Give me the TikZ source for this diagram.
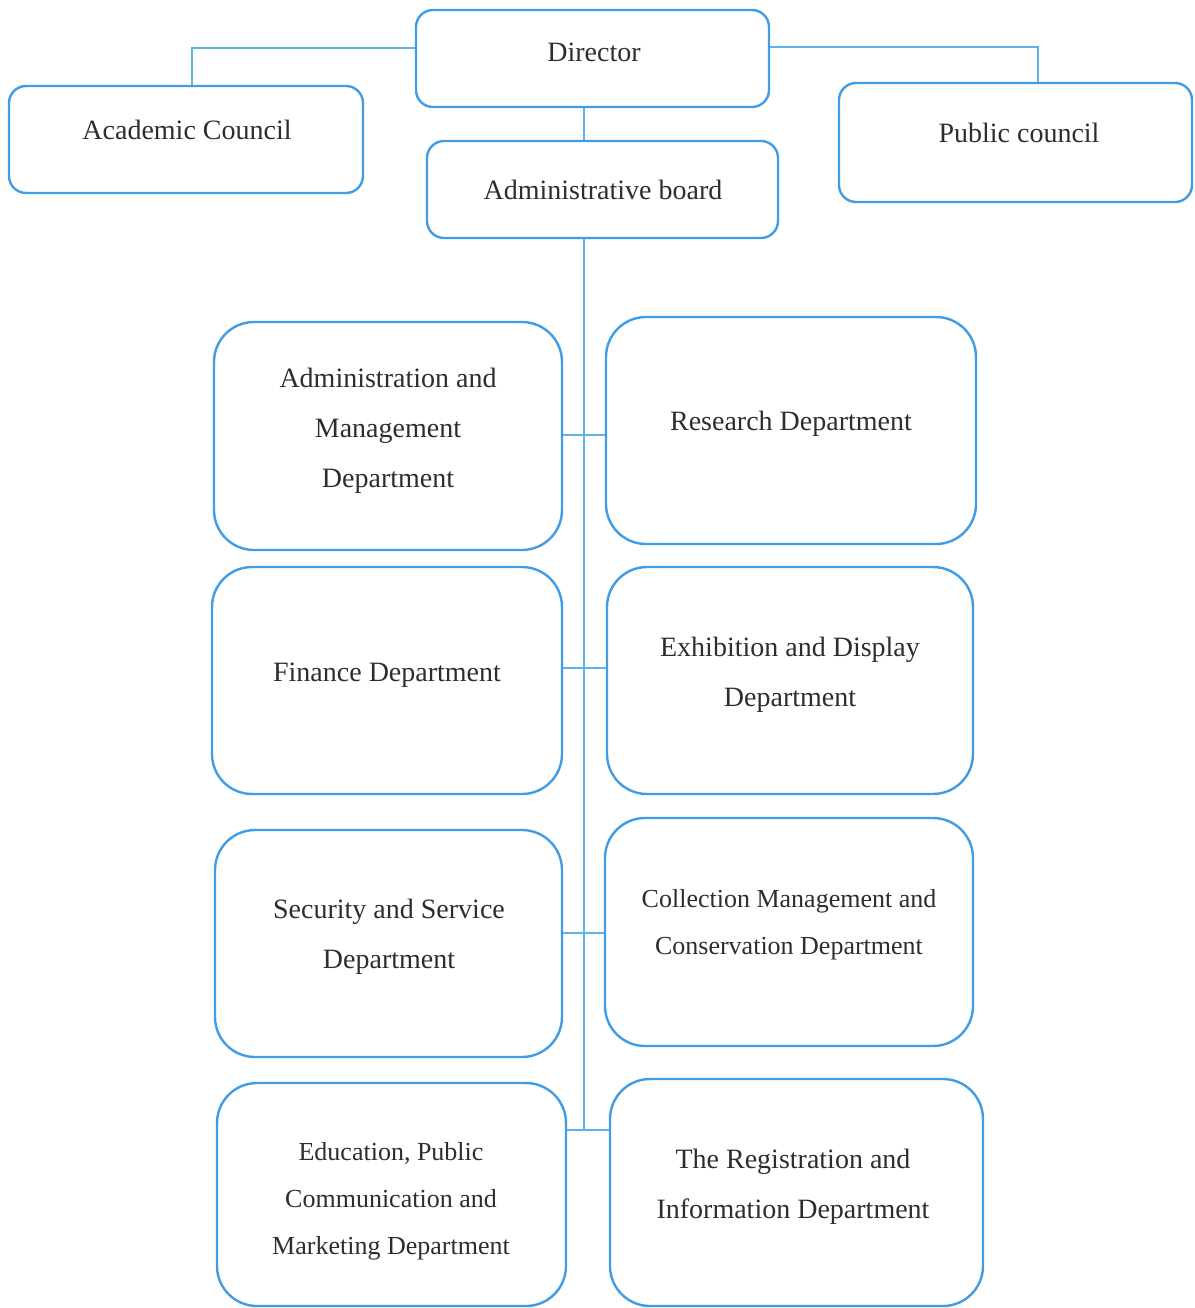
\documentclass[tikz,border=0pt]{standalone}
\usepackage{fontspec}
\setmainfont{Liberation Serif}
\definecolor{boxblue}{RGB}{64,156,228}
\definecolor{linkblue}{RGB}{96,178,234}
\definecolor{ink}{RGB}{45,45,45}
\begin{document}
\begin{tikzpicture}[x=1pt,y=-1pt,
  unit/.style={draw=boxblue,line width=2.4pt,inner sep=0pt,rectangle},
  council/.style={unit,rounded corners=17pt},
  dept/.style={unit,rounded corners=40pt},
  link/.style={draw=linkblue,line width=1.4pt},
  lbl/.style={text=ink,align=center,inner sep=0pt,font=\fontsize{28}{50}\selectfont},
  lblsmall/.style={lbl,font=\fontsize{26}{47}\selectfont}]
\useasboundingbox (0,0) rectangle (1194,1308);

% governing bodies
\node[council,minimum width=353pt,minimum height=97pt]  (dir)   at (592.5,58.5) {};
\node[council,minimum width=354pt,minimum height=107pt] (acad)  at (186,139.5) {};
\node[council,minimum width=353pt,minimum height=119pt] (pub)   at (1015.5,142.5) {};
\node[council,minimum width=351pt,minimum height=97pt]  (board) at (602.5,189.5) {};

% departments
\node[dept,minimum width=348pt,minimum height=228pt] (admin) at (388,436) {};
\node[dept,minimum width=370pt,minimum height=227pt] (res)   at (791,430.5) {};
\node[dept,minimum width=350pt,minimum height=227pt] (fin)   at (387,680.5) {};
\node[dept,minimum width=366pt,minimum height=227pt] (exh)   at (790,680.5) {};
\node[dept,minimum width=347pt,minimum height=227pt] (sec)   at (388.5,943.5) {};
\node[dept,minimum width=368pt,minimum height=228pt] (col)   at (789,932) {};
\node[dept,minimum width=349pt,minimum height=223pt] (edu)   at (391.5,1194.5) {};
\node[dept,minimum width=373pt,minimum height=227pt] (reg)   at (796.5,1192.5) {};

% labels
\node[lbl] (dirT)   at (594,52)  {Director};
\node[lbl] (acadT)  at (187,130) {Academic Council};
\node[lbl] (pubT)   at (1019,133) {Public council};
\node[lbl] (boardT) at (603,190) {Administrative board};
\node[lbl] (adminT) at (388,431) {Administration and\\Management\\Department};
\node[lbl] (resT)   at (791,424) {Research Department};
\node[lbl] (finT)   at (387,675) {Finance Department};
\node[lbl] (exhT)   at (790,675) {Exhibition and Display\\Department};
\node[lbl] (secT)   at (389,937) {Security and Service\\Department};
\node[lblsmall] (colT) at (789,925) {Collection Management and\\Conservation Department};
\node[lblsmall] (eduT) at (391,1201) {Education, Public\\Communication and\\Marketing Department};
\node[lbl] (regT)   at (793,1187) {The Registration and\\Information Department};

% junctions on the central line
\coordinate (j1) at (584,435);
\coordinate (j2) at (584,668);
\coordinate (j3) at (584,933);
\coordinate (j4) at (584,1130);

% connectors
\draw[link] ([yshift=10.5pt]dir.west) -| ([xshift=6pt]acad.north);
\draw[link] ([yshift=11.5pt]dir.east) -| ([xshift=22.5pt]pub.north);
\draw[link] ([xshift=-8.5pt]dir.south) -- ([xshift=-18.5pt]board.north);
\draw[link] ([xshift=-18.5pt]board.south) -- (j4);
\draw[link] (admin.east |- j1) -- (res.west |- j1);
\draw[link] (fin.east |- j2) -- (exh.west |- j2);
\draw[link] (sec.east |- j3) -- (col.west |- j3);
\draw[link] (edu.east |- j4) -- (reg.west |- j4);
\end{tikzpicture}
\end{document}
